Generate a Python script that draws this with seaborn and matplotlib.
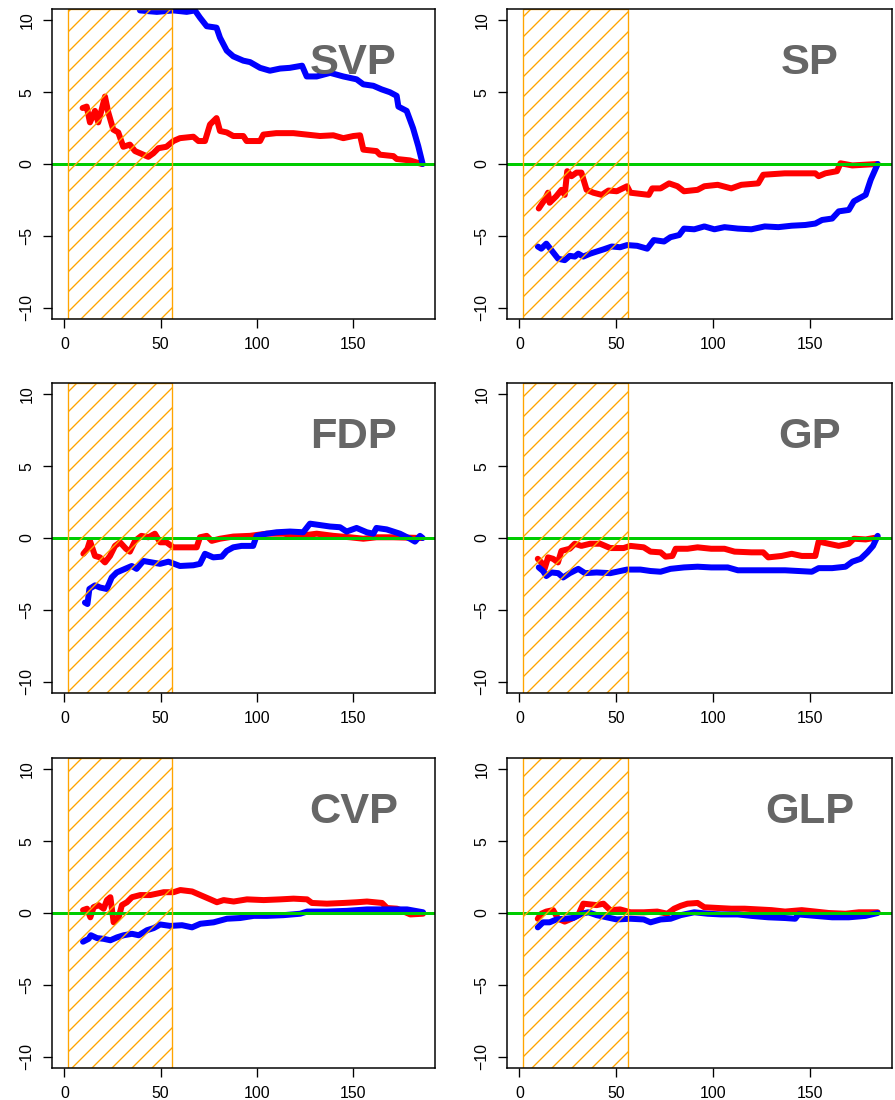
import matplotlib.pyplot as plt
import seaborn as sns

# SVP
svp_red_x = [9.5, 11.6, 13.3, 15.9, 17.6, 19.4, 21.1, 22.8, 25.4, 28, 30.6, 34, 36.7, 41, 43.6, 46.2, 48.8, 53,
             56.6, 60, 67, 69.6, 73, 75.6, 79, 80.8, 84.3, 87.7, 92.9, 94.6, 101.6, 103.3, 110, 118.9, 125.8,
             132.7, 139.6, 144.8, 150, 153.5, 155.2, 162, 163.8, 170.8, 172.5, 179.4, 185.5]
svp_red_y = [3.9, 4.0, 2.9, 3.7, 2.9, 3.8, 4.7, 3.6, 2.4, 2.2, 1.2, 1.35, 0.9, 0.65, 0.5, 0.75, 1.1, 1.2,
             1.6, 1.8, 1.9, 1.6, 1.6, 2.75, 3.2, 2.3, 2.2, 1.95, 1.95, 1.6, 1.6, 2.05, 2.15, 2.15, 2.05,
             1.95, 2.0, 1.8, 1.95, 2.0, 1.0, 0.9, 0.65, 0.55, 0.35, 0.25, 0.0]
svp_blue_x = [10, 20, 30, 38, 39.3, 48, 56.6, 63.5, 67.8, 70.4, 73.9, 79, 80.8, 84.3, 87.7, 92.9, 96.4, 101.6,
              106.7, 112, 117, 123.4, 125.8, 131, 138, 144.8, 151.7, 155.2, 160.4, 164.7, 169, 172.5, 173.4,
              177.7, 181, 183.7, 186]
svp_blue_y = [13.0, 12.5, 12.0, 11.2, 10.7, 10.6, 10.7, 10.6, 10.7, 10.2, 9.6, 9.5, 8.8, 7.9, 7.5, 7.2, 7.1, 6.7,
              6.5, 6.65, 6.7, 6.85, 6.1, 6.1, 6.35, 6.1, 5.9, 5.55, 5.45, 5.2, 5.0, 4.75, 4.0,
              3.7, 2.5, 1.25, 0.0]

# SP
sp_red_x = [10, 13, 14.8, 15.6, 19, 21.7, 23.4, 24.7, 26.9, 29.5, 32, 34.7, 38.2, 42.5, 46, 50.3, 55.6, 57.3,
            66.8, 68.6, 72.9, 77.3, 81.6, 85, 92, 95.5, 102.4, 109.4, 114.6, 123.3, 125.9, 137, 152.8, 154.5,
            158, 164, 165.8, 171.9, 185]
sp_red_y = [-3.1, -2.5, -2.0, -2.7, -2.25, -1.8, -2.15, -0.5, -0.85, -0.6, -0.6, -1.8, -2.0, -2.15, -1.85, -1.9,
            -1.55, -2.0, -2.15, -1.7, -1.7, -1.35, -1.55, -1.9, -1.8, -1.55, -1.45, -1.7, -1.45, -1.35, -0.75,
            -0.65, -0.65, -0.85, -0.65, -0.5, 0.05, -0.1, 0.0]
sp_blue_x = [9.5, 11.3, 13.9, 16.5, 20, 23.4, 26, 28.6, 30.4, 33, 36.5, 39.9, 43.4, 47.7, 52, 55.6, 60.8, 66,
             69.4, 74.7, 78, 82.5, 85, 90.3, 95.5, 100.7, 105.9, 112.8, 119.8, 126.7, 133.7, 140.6, 147.6,
             152.8, 156.3, 161.5, 164.9, 170.1, 172.7, 178.8, 181.4, 185]
sp_blue_y = [-5.75, -5.9, -5.55, -6.0, -6.6, -6.7, -6.4, -6.45, -6.25, -6.45, -6.25, -6.1, -5.95, -5.75, -5.8,
             -5.65, -5.7, -5.9, -5.3, -5.4, -5.1, -4.95, -4.5, -4.55, -4.35, -4.55, -4.4, -4.5, -4.55, -4.35,
             -4.4, -4.3, -4.25, -4.15, -3.9, -3.8, -3.3, -3.2, -2.6, -2.15, -1.1, 0.0]

# FDP
fdp_red_x = [9.9, 12, 13.3, 15.9, 18.5, 21.1, 23.7, 26.3, 28.9, 32, 34, 36.7, 40, 43.6, 47, 49.7, 53, 56.6,
             68.7, 70.4, 73.9, 76.5, 80.8, 87.7, 96.4, 105, 113.7, 122.3, 131, 139.6, 148.3, 155.2, 162,
             170.8, 185.5]
fdp_red_y = [-1.1, -0.75, -0.2, -1.25, -1.35, -1.7, -1.25, -0.55, -0.3, -0.75, -0.95, -0.2, 0.15, 0.05, 0.3,
             -0.3, -0.3, -0.65, -0.65, 0.05, 0.15, -0.2, -0.05, 0.1, 0.15, 0.3, 0.3, 0.15, 0.3, 0.15, 0.05,
             -0.05, 0.05, 0.05, 0.0]
fdp_blue_x = [10.7, 12, 13, 15.9, 18.5, 22, 24.6, 27.2, 31.5, 35, 37.5, 41, 45.3, 49.7, 54, 60, 67, 70.4,
              73, 77.3, 81.7, 84.3, 87.7, 92, 98, 99.8, 105, 110.2, 117.1, 124, 127.5, 132.7, 137.9, 143.1,
              146.5, 151.7, 157, 160.4, 162, 167.3, 174.2, 179.4, 182, 184.6, 186]
fdp_blue_y = [-4.5, -4.6, -3.55, -3.3, -3.45, -3.55, -2.75, -2.4, -2.15, -1.95, -2.15, -1.6, -1.7, -1.8, -1.65,
              -1.95, -1.9, -1.8, -1.1, -1.35, -1.3, -0.9, -0.65, -0.55, -0.55, 0.15, 0.3, 0.4, 0.45, 0.4,
              1.0, 0.9, 0.8, 0.75, 0.45, 0.7, 0.4, 0.3, 0.7, 0.6, 0.3, -0.05, -0.25, 0.15, 0.0]

# GP
gp_red_x = [9.5, 11.3, 13, 14.8, 17.4, 19.9, 21.7, 26, 28.6, 32, 36.5, 41.7, 46.9, 53.8, 57.3, 64.2, 67.7,
            72.9, 75.5, 79, 80.7, 86.8, 92, 99, 105.9, 111.1, 119.8, 125.9, 128.5, 135.4, 140.6, 145.8,
            152.8, 154.5, 159.7, 164.9, 170.1, 172.7, 178.8, 185]
gp_red_y = [-1.45, -1.7, -2.15, -1.35, -1.45, -1.7, -0.9, -0.75, -0.4, -0.55, -0.4, -0.4, -0.7, -0.7, -0.55,
            -0.65, -0.95, -1.0, -1.3, -1.25, -0.75, -0.75, -0.65, -0.75, -0.75, -0.95, -1.0, -1.0, -1.35,
            -1.25, -1.1, -1.25, -1.25, -0.25, -0.4, -0.55, -0.4, -0.05, -0.1, 0.05]
gp_blue_x = [10, 12.2, 13.9, 16.5, 20, 22.6, 26, 30.4, 33.9, 39.9, 46.9, 55.6, 62.5, 67.7, 72.9, 78, 85, 92,
             99, 107.6, 112.8, 119.8, 128.5, 137.2, 144.1, 151, 154.5, 161.5, 168.4, 171.9, 176.2, 179.7,
             182.6, 185]
gp_blue_y = [-2.05, -2.3, -2.65, -2.4, -2.45, -2.75, -2.45, -2.15, -2.45, -2.4, -2.45, -2.2, -2.2, -2.3,
             -2.35, -2.15, -2.05, -2.0, -2.05, -2.05, -2.25, -2.25, -2.25, -2.25, -2.3, -2.35, -2.1, -2.1,
             -2.0, -1.65, -1.45, -1.0, -0.55, 0.15]

# CVP
cvp_red_x = [9.7, 11.8, 13.5, 15.2, 17.8, 20.4, 22.1, 23.9, 25.6, 28.2, 29.9, 32.5, 35.1, 39.4, 44.6, 48.1,
             51.6, 56.7, 60.2, 66.3, 70.6, 75.8, 79.2, 82.7, 87.9, 94.8, 103.5, 112.1, 119, 126, 128.5,
             136.3, 145, 151.9, 157.1, 164.9, 167.5, 172.7, 179.6, 186.2]
cvp_red_y = [0.2, 0.3, -0.3, 0.4, 0.55, 0.3, 0.9, 1.1, -0.65, -0.3, 0.55, 0.75, 1.1, 1.25, 1.25, 1.35, 1.45,
             1.45, 1.6, 1.5, 1.25, 0.95, 0.75, 0.9, 0.8, 0.95, 0.9, 0.95, 1.0, 0.95, 0.7, 0.65, 0.7, 0.75,
             0.8, 0.7, 0.35, 0.3, -0.1, -0.05]
cvp_blue_x = [9.7, 12.6, 13.8, 17, 20.4, 23.9, 27.3, 30.8, 35.1, 38.6, 42.9, 46.4, 49.8, 55, 61.1, 66.3,
              70.6, 77.5, 84.4, 91.3, 98.3, 105.2, 113.8, 122.5, 126, 136.3, 146.7, 157.1, 167.5, 177.9,
              186.2]
cvp_blue_y = [-2.0, -1.8, -1.55, -1.75, -1.8, -1.9, -1.7, -1.55, -1.45, -1.55, -1.2, -1.05, -0.8, -0.9,
              -0.85, -1.0, -0.75, -0.65, -0.4, -0.35, -0.2, -0.2, -0.15, -0.05, 0.1, 0.1, 0.15, 0.25, 0.25,
              0.25, 0.05]

# GLP
glp_red_x = [9.5, 11.3, 13.9, 17.4, 20, 23.4, 26.9, 30.4, 33, 36.5, 39.9, 43.4, 46.9, 52, 57.3, 64.2, 71.2,
             76.4, 79.9, 83.3, 86.8, 92, 95.5, 102.4, 109.4, 116.3, 123.3, 130.2, 137.2, 145.8, 152.8,
             159.7, 168.4, 175.3, 185]
glp_red_y = [-0.4, -0.05, 0.1, 0.2, -0.4, -0.6, -0.4, -0.15, 0.65, 0.6, 0.55, 0.65, 0.2, 0.25, 0.05, 0.05,
             0.1, -0.05, 0.3, 0.5, 0.65, 0.7, 0.4, 0.35, 0.3, 0.3, 0.25, 0.2, 0.1, 0.2, 0.1, 0.0, -0.05,
             0.05, 0.05]
glp_blue_x = [9.5, 12.2, 15.6, 19.1, 23.4, 27.8, 32.1, 35.6, 39.9, 45.1, 50.3, 57.3, 64.2, 67.7, 72.9, 78.1,
              83.3, 90.3, 97.2, 104.2, 112.8, 119.8, 128.5, 137.2, 142.4, 144.1, 152.8, 161.5, 170.1,
              178.8, 185]
glp_blue_y = [-1.0, -0.65, -0.65, -0.45, -0.4, -0.35, -0.05, 0.05, -0.15, -0.3, -0.45, -0.4, -0.45, -0.65,
              -0.45, -0.4, -0.15, 0.05, -0.05, -0.1, -0.1, -0.2, -0.3, -0.35, -0.4, -0.1, -0.2, -0.3, -0.3,
              -0.2, 0.0]

panel_names = ["SVP", "SP", "FDP", "GP", "CVP", "GLP"]
red_x = [svp_red_x, sp_red_x, fdp_red_x, gp_red_x, cvp_red_x, glp_red_x]
red_y = [svp_red_y, sp_red_y, fdp_red_y, gp_red_y, cvp_red_y, glp_red_y]
blue_x = [svp_blue_x, sp_blue_x, fdp_blue_x, gp_blue_x, cvp_blue_x, glp_blue_x]
blue_y = [svp_blue_y, sp_blue_y, fdp_blue_y, gp_blue_y, cvp_blue_y, glp_blue_y]

# shaded window
window_start = 2
window_end = 56

sns.set_style("ticks")
plt.rcParams['font.family'] = ['Liberation Sans', 'DejaVu Sans']
plt.rcParams['hatch.color'] = 'orange'
plt.rcParams['hatch.linewidth'] = 0.8

# dpi 120 with '//' gives a hatch spacing close to the original
DPI = 120
fig = plt.figure(figsize=(895 / DPI, 1100 / DPI), dpi=DPI)

col_left = [52 / 895, 507 / 895]
col_width = [383 / 895, 385 / 895]
row_bottom = [1 - 319 / 1100, 1 - 693 / 1100, 1 - 1068 / 1100]
row_height = 310 / 1100

for i, name in enumerate(panel_names):
    r, c = divmod(i, 2)
    ax = fig.add_axes([col_left[c], row_bottom[r], col_width[c], row_height])

    sns.lineplot(x=red_x[i], y=red_y[i], ax=ax, color='#FF0000', linewidth=3.6,
                 sort=False, estimator=None, solid_capstyle='round', solid_joinstyle='round')
    sns.lineplot(x=blue_x[i], y=blue_y[i], ax=ax, color='#0000FF', linewidth=3.6,
                 sort=False, estimator=None, solid_capstyle='round', solid_joinstyle='round')
    ax.axhline(0, color='#00CC00', linewidth=1.8, zorder=3)

    ax.axvspan(window_start, window_end, facecolor='none', edgecolor='orange',
               hatch='//', linewidth=0.8, zorder=4)

    ax.text(150, 6.25, name, ha='center', va='baseline', fontsize=26,
            fontweight='bold', color='#666666', zorder=5)

    ax.set_xlim(-6.4, 192.4)
    ax.set_ylim(-10.8, 10.8)
    ax.set_xticks([0, 50, 100, 150])
    ax.set_yticks([-10, -5, 0, 5, 10])
    ax.set_xlabel('')
    ax.set_ylabel('')
    ax.tick_params(axis='both', direction='out', length=5.4, width=0.8,
                   color='black', labelcolor='black', labelsize=9.5)
    ax.tick_params(axis='x', pad=5.5)
    ax.tick_params(axis='y', pad=5)
    plt.setp(ax.get_yticklabels(), rotation=90, va='center')
    for sp in ax.spines.values():
        sp.set_color('black')
        sp.set_linewidth(0.9)
        sp.set_zorder(6)

fig.savefig('out.png', dpi=DPI)
plt.close()
